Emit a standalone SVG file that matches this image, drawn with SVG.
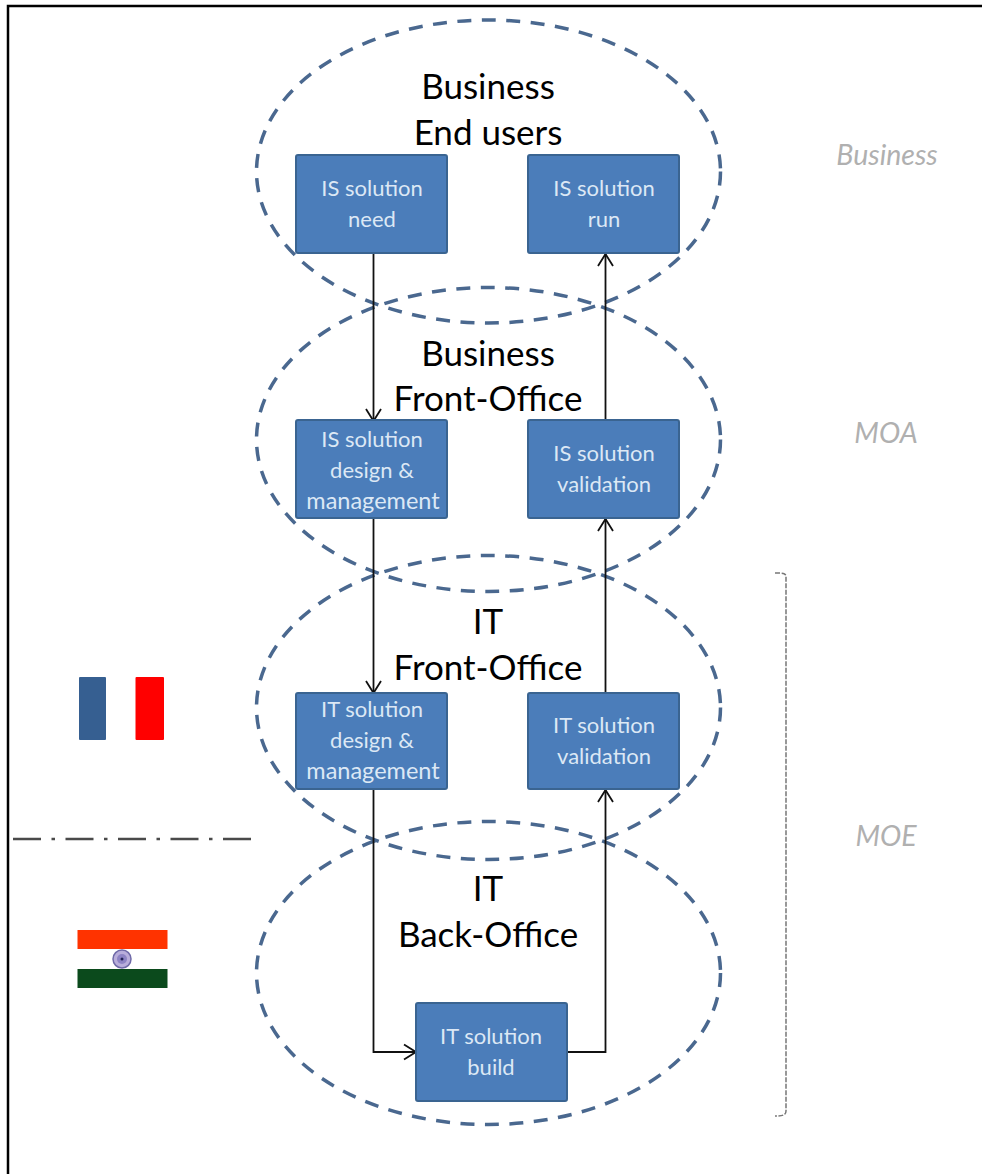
<svg xmlns="http://www.w3.org/2000/svg" width="982" height="1174" viewBox="0 0 982 1174">
<style>
.zone{fill:none;stroke:#4a688f;stroke-width:3.5;stroke-dasharray:14 10.500}
.box{fill:#4b7dba;stroke:#3a6491;stroke-width:2}
.bt{font-family:Lato,"Liberation Sans",sans-serif;font-size:22px;fill:#dce8f5;text-anchor:middle}
.bm{font-size:23.500px}
.zt{font-family:Lato,"Liberation Sans",sans-serif;font-size:35px;fill:#000;text-anchor:middle}
.side{font-family:Lato,"Liberation Sans",sans-serif;font-size:28.500px;font-style:italic;fill:#b0b0b0;text-anchor:middle}
.conn{fill:none;stroke:#111;stroke-width:1.8}
</style>
<defs>
<marker id="arr" markerUnits="userSpaceOnUse" markerWidth="20" markerHeight="20" refX="15" refY="10" orient="auto">
<path d="M3 2.500 L15 10 L3 17.500" fill="none" stroke="#111" stroke-width="1.800"/>
</marker>
</defs>
<rect id="frame" x="8" y="6" width="980" height="1180" fill="#fff" stroke="#000" stroke-width="2.500"/>
<g id="zone-end-users"><ellipse class="zone" cx="488.500" cy="171.500" rx="232" ry="151.500"/><text class="zt" x="488" y="99">Business</text><text class="zt" x="488" y="145">End users</text></g>
<g id="zone-business-fo"><ellipse class="zone" cx="488.500" cy="439.500" rx="232" ry="152"/><text class="zt" x="488" y="366">Business</text><text class="zt" x="488" y="411">Front-Office</text></g>
<g id="zone-it-fo"><ellipse class="zone" cx="488.500" cy="707.500" rx="232" ry="152"/><text class="zt" x="488" y="634">IT</text><text class="zt" x="488" y="680">Front-Office</text></g>
<g id="zone-it-bo"><ellipse class="zone" cx="488.500" cy="973" rx="232" ry="151.500"/><text class="zt" x="488" y="901">IT</text><text class="zt" x="488" y="947">Back-Office</text></g>
<g id="connectors">
<path class="conn" marker-end="url(#arr)" d="M373.500 253V421"/>
<path class="conn" marker-end="url(#arr)" d="M373.500 518V693"/>
<path class="conn" marker-end="url(#arr)" d="M373.500 789V1052H416"/>
<path class="conn" marker-end="url(#arr)" d="M567 1052H605.500V790"/>
<path class="conn" marker-end="url(#arr)" d="M605.500 693V519"/>
<path class="conn" marker-end="url(#arr)" d="M605.500 420V254"/>
</g>
<g id="n-need"><rect class="box" x="296" y="155" width="151" height="98" rx="2"/><text class="bt" x="372" y="196">IS solution</text><text class="bt" x="372" y="227">need</text></g>
<g id="n-run"><rect class="box" x="528" y="155" width="151" height="98" rx="2"/><text class="bt" x="604" y="196">IS solution</text><text class="bt" x="604" y="227">run</text></g>
<g id="n-is-design"><rect class="box" x="296" y="420" width="151" height="98" rx="2"/><text class="bt" x="372" y="447">IS solution</text><text class="bt" x="372" y="478">design &amp;</text><text class="bt bm" x="373" y="509">management</text></g>
<g id="n-is-val"><rect class="box" x="528" y="420" width="151" height="98" rx="2"/><text class="bt" x="604" y="461">IS solution</text><text class="bt" x="604" y="492">validation</text></g>
<g id="n-it-design"><rect class="box" x="296" y="693" width="151" height="96" rx="2"/><text class="bt" x="372" y="717">IT solution</text><text class="bt" x="372" y="748">design &amp;</text><text class="bt bm" x="373" y="779">management</text></g>
<g id="n-it-val"><rect class="box" x="528" y="693" width="151" height="96" rx="2"/><text class="bt" x="604" y="733">IT solution</text><text class="bt" x="604" y="764">validation</text></g>
<g id="n-build"><rect class="box" x="416" y="1003" width="151" height="98" rx="2"/><text class="bt" x="491" y="1044">IT solution</text><text class="bt" x="491" y="1075">build</text></g>
<g id="flag-fr"><rect x="79" y="677" width="27" height="63" rx="1" fill="#365f91"/><rect x="135.500" y="677" width="28.500" height="63" rx="1" fill="#ff0000"/></g>
<g id="flag-in"><rect x="77.500" y="930" width="90" height="19" fill="#ff3300"/><rect x="77.500" y="969" width="90" height="19" fill="#0b4a1c"/><circle cx="122" cy="959" r="9" fill="#b9aedb" stroke="#6f6aa8" stroke-width="1.500"/><circle cx="122" cy="959" r="5" fill="#8d83c4"/><circle cx="122" cy="959" r="1.500" fill="#222255"/></g>
<path id="border-line" d="M13 839H251" fill="none" stroke="#4a4a4a" stroke-width="2.500" stroke-dasharray="28 10.500 3.500 10.500"/>
<path id="moe-bracket" d="M775 573C783 573 786 573 786 577V1111C786 1115 783 1116 775 1116" fill="none" stroke="#777" stroke-width="1.500" stroke-dasharray="5 1.500"/>
<text class="side" x="887" y="165">Business</text>
<text class="side" x="886" y="443">MOA</text>
<text class="side" x="886" y="846">MOE</text>
</svg>
